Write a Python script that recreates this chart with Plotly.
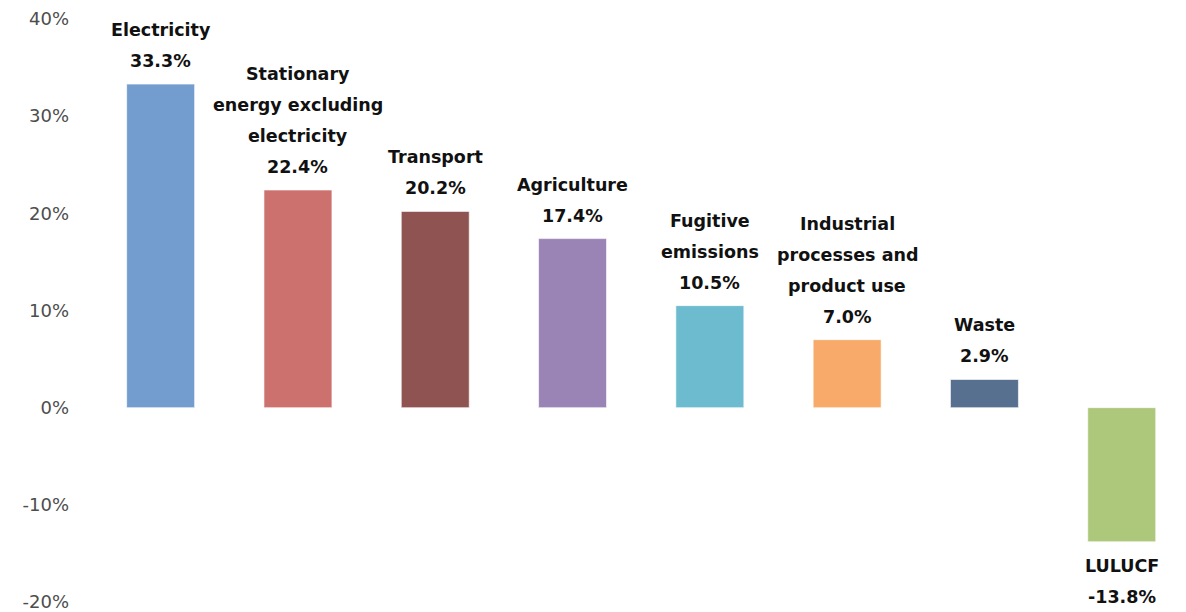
import plotly.graph_objects as go

categories = [
    "Electricity",
    "Stationary\nenergy excluding\nelectricity",
    "Transport",
    "Agriculture",
    "Fugitive\nemissions",
    "Industrial\nprocesses and\nproduct use",
    "Waste",
    "LULUCF",
]
values = [33.3, 22.4, 20.2, 17.4, 10.5, 7.0, 2.9, -13.8]
colors = ["#739CCF", "#CC716D", "#8F5452", "#9A84B6", "#6CBBCF", "#F8AA6B", "#57708F", "#ADC77B"]
tick_vals = [-20, -10, 0, 10, 20, 30, 40]
tick_text = ["-20%", "-10%", "0%", "10%", "20%", "30%", "40%"]

xs = list(range(len(categories)))

fig = go.Figure()
fig.add_trace(go.Bar(
    x=xs, y=values,
    marker=dict(color=colors, line=dict(color="rgba(255,255,255,0.6)", width=1)),
    width=0.495,
    hoverinfo="skip",
))

LINE = 31
GAP = 23
for x, cat, v in zip(xs, categories, values):
    lines = cat.split("\n") + [f"{v:.1f}%"]
    n = len(lines)
    for i, t in enumerate(lines):
        if v >= 0:
            shift = GAP + (n - 1 - i) * LINE
        else:
            shift = -(GAP + 1 + i * LINE)
        fig.add_annotation(
            x=x, y=v, text=f"<b>{t}</b>", showarrow=False,
            xanchor="center", yanchor="middle", yshift=shift,
            font=dict(family="DejaVu Sans", size=17.5, color="#111111"),
        )

fig.update_layout(
    width=1186, height=612,
    margin=dict(l=92, r=0, t=19, b=8),
    paper_bgcolor="white", plot_bgcolor="white",
    showlegend=False,
    xaxis=dict(range=[-0.5, 7.468], showticklabels=False, showgrid=False,
               zeroline=False, showline=False, ticks=""),
    yaxis=dict(range=[-20, 40], tickvals=tick_vals, ticktext=tick_text,
               showgrid=False, zeroline=False, showline=False, ticks="",
               ticklabelstandoff=22, ticklabeloverflow="allow",
               tickfont=dict(family="DejaVu Sans", size=18, color="#4d4d4d")),
)

fig.write_html("out.html")
